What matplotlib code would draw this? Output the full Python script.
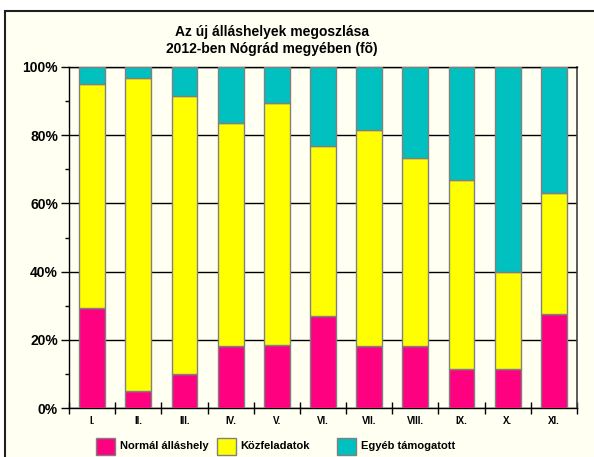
import matplotlib
matplotlib.use("Agg")
import matplotlib.pyplot as plt
from matplotlib.patches import Rectangle
from matplotlib.ticker import MultipleLocator, FuncFormatter
import numpy as np

# Data (share in %)
categories = ["I.", "II.", "III.", "IV.", "V.", "VI.", "VII.", "VIII.", "IX.", "X.", "XI."]
normal = [29.2, 5.0, 9.9, 18.3, 18.4, 26.9, 18.2, 18.2, 11.3, 11.3, 27.5]
kozfeladat = [65.9, 91.8, 81.5, 65.2, 71.0, 50.0, 63.4, 55.2, 55.6, 28.5, 35.5]
egyeb = [100 - a - b for a, b in zip(normal, kozfeladat)]
series_names = ["Normál álláshely", "Közfeladatok", "Egyéb támogatott"]

colors = ["#FF0080", "#FFFF00", "#00C0C0"]
bg = "#FFFFF2"
plt.rcParams["font.family"] = ["Liberation Sans", "DejaVu Sans"]

W, H = 594, 457
fig = plt.figure(figsize=(W / 100, H / 100), dpi=100, facecolor="white")

# chart area border
fig.add_artist(Rectangle((4.5 / W, -0.05), 1.1, (H - 11) / H + 0.05, transform=fig.transFigure,
                         facecolor=bg, edgecolor="#202020", linewidth=1.5, zorder=0))

ax = fig.add_axes([69 / W, (H - 408) / H, (577 - 69) / W, (408 - 67) / H])
ax.set_facecolor(bg)

x = np.arange(len(categories))
bottom = np.zeros(len(categories))
for vals, col in zip([normal, kozfeladat, egyeb], colors):
    ax.bar(x, vals, bottom=bottom, width=0.56, color=col, edgecolor="#808080", linewidth=1, zorder=3)
    bottom += np.array(vals)

ax.set_xlim(-0.5, len(categories) - 0.5)
ax.set_ylim(0, 100)
ax.yaxis.set_major_locator(MultipleLocator(20))
ax.yaxis.set_minor_locator(MultipleLocator(10))
ax.yaxis.set_major_formatter(FuncFormatter(lambda v, p: f"{v:.0f}%"))
ax.grid(axis="y", which="major", color="black", linewidth=1, zorder=1)
ax.tick_params(axis="y", which="major", length=6, width=1, labelsize=10, pad=2)
ax.tick_params(axis="y", which="minor", length=3, width=1)
for lab in ax.get_yticklabels():
    lab.set_fontweight("bold")

# category labels centred, tick marks between categories
ax.set_xticks(x)
ax.set_xticklabels(categories, fontsize=7, fontweight="bold")
ax.tick_params(axis="x", which="major", length=0, pad=6)
ax.set_xticks(np.arange(-0.5, len(categories)), minor=True)
ax.tick_params(axis="x", which="minor", direction="inout", length=8, width=1)

for s in ["left", "bottom", "top"]:
    ax.spines[s].set_color("black")
    ax.spines[s].set_linewidth(1)
ax.spines["right"].set_color("#404040")
ax.spines["right"].set_linewidth(1.2)

fig.text(272 / W, 1 - 25 / H, "Az új álláshelyek megoszlása\n2012-ben Nógrád megyében (fõ)",
         ha="center", va="top", fontsize=10, fontweight="bold", linespacing=1.25)

# legend
for i, (name, col) in enumerate(zip(series_names, colors)):
    x0 = 96 + i * 120.5
    fig.add_artist(Rectangle((x0 / W, (H - 455) / H), 19 / W, 17 / H, transform=fig.transFigure,
                             facecolor=col, edgecolor="#808080", linewidth=1))
    fig.text((x0 + 24) / W, (H - 446) / H, name, ha="left", va="center",
             fontsize=8, fontweight="bold")

fig.savefig("out.png", dpi=100, facecolor="white")
